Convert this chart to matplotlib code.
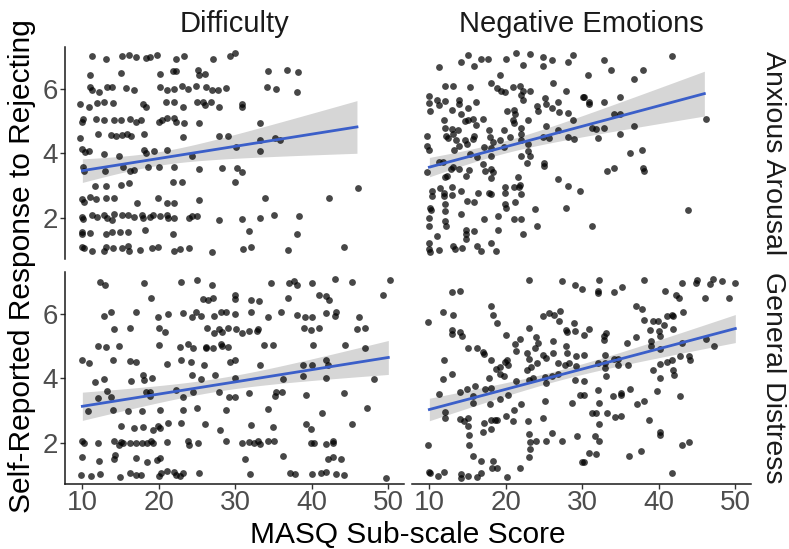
import numpy as np
import matplotlib
matplotlib.use('Agg')
import matplotlib.pyplot as plt

plt.rcParams['font.family'] = ['Liberation Sans', 'DejaVu Sans']

# ---- data ----
# Difficulty / Anxious Arousal
tl_x = [11.3,13.1,15.2,16.1,17.0,18.3,18.9,19.8,22.2,23.3,27.1,29.3,29.9,
        11.0,15.0,20.1,21.9,22.3,25.1,25.2,26.0,
        11.0,11.3,12.2,13.2,13.9,15.7,16.8,20.1,21.0,22.0,23.0,23.8,24.9,26.2,27.0,27.7,28.8,
        9.7,10.9,11.9,12.8,14.0,17.9,18.3,20.9,22.0,23.2,25.0,25.8,26.0,26.8,27.9,
        10.1,10.0,11.8,12.8,14.1,15.0,16.2,17.0,17.7,20.0,20.4,21.0,22.0,22.3,23.3,25.2,
        9.7,12.0,13.8,14.4,15.2,15.9,16.4,18.1,23.2,27.8,29.0,
        9.9,10.3,10.9,12.8,14.8,18.1,18.3,19.4,21.0,24.3,30.1,
        10.1,10.2,12.9,15.3,16.2,16.8,18.6,20.0,22.0,25.2,28.3,30.2,
        11.7,13.1,15.1,16.1,21.8,23.0,30.0,
        10.0,10.2,11.0,11.8,13.1,14.1,17.2,19.9,21.0,22.0,25.3,
        10.0,10.1,11.2,11.9,12.8,13.2,13.9,14.2,15.2,16.0,16.8,17.8,17.9,18.8,19.2,20.1,21.0,21.2,22.0,23.9,24.3,25.0,27.9,
        9.9,10.0,11.0,13.1,13.9,14.9,16.0,18.2,21.8,
        9.9,10.2,11.3,12.8,13.1,14.0,15.2,16.0,16.1,17.6,19.1,19.9,22.0,22.8,23.9,27.0,
        34.3,36.7,38.2,34.1,35.3,38.1,30.9,30.9,33.2,33.2,35.2,35.8,33.2,30.9,33.9,42.3,46.0,30.9,33.2,35.0,
        38.3,31.8,38.0,31.0,32.1,36.9,44.2]
tl_y = [7.02,6.94,7.04,7.07,7.0,6.97,7.0,7.07,6.94,7.04,6.94,7.02,7.12,
        6.44,6.49,6.47,6.55,6.55,6.6,6.44,6.46,
        6.08,5.97,5.92,6.05,6.05,6.02,5.97,6.05,5.97,5.99,6.1,5.99,6.1,6.08,5.97,5.97,6.02,
        5.53,5.45,5.57,5.61,5.57,5.55,5.45,5.61,5.61,5.45,5.61,5.61,5.5,5.61,5.45,
        5.08,4.98,5.08,5.03,5.03,5.03,5.08,4.98,5.03,4.98,5.03,5.1,5.11,4.98,4.95,4.95,
        4.49,4.61,4.56,4.53,4.56,4.61,4.54,4.61,4.51,4.53,4.53,
        4.14,4.04,4.07,3.99,3.93,4.11,4.02,4.07,4.11,3.93,4.19,
        3.57,3.44,3.46,3.59,3.44,3.48,3.59,3.59,3.59,3.52,3.55,3.55,
        2.99,2.97,3.02,3.07,3.1,3.1,3.1,
        2.57,2.5,2.63,2.57,2.61,2.61,2.45,2.61,2.45,2.45,2.54,
        2.03,1.97,2.08,2.03,2.08,2.0,1.92,2.1,2.08,2.08,2.02,2.08,1.98,2.03,2.08,2.05,2.08,2.0,1.98,1.98,2.05,2.06,1.92,
        1.55,1.48,1.51,1.48,1.56,1.56,1.56,1.61,1.48,
        1.08,1.04,0.96,0.96,1.08,1.06,1.04,1.11,0.96,0.98,1.06,1.08,0.96,1.03,1.06,0.92,
        6.55,6.58,6.54,6.08,6.0,5.92,5.55,5.45,4.95,4.43,4.49,4.43,4.07,3.43,2.6,2.61,2.92,1.95,1.99,2.08,
        2.05,1.59,1.5,1.01,1.07,0.99,1.07]

# Negative Emotions / Anxious Arousal
tr_x = [11.2,14.2,15.0,15.8,16.8,17.7,20.0,21.3,22.2,23.2,24.9,24.9,26.0,28.1,28.8,19.2,
        12.0,13.1,15.3,18.1,18.8,19.4,19.9,20.9,21.9,22.2,23.1,26.1,27.8,
        10.0,10.0,10.1,11.0,11.2,12.0,13.0,13.9,13.9,15.0,16.1,20.2,21.1,21.2,22.0,22.2,24.1,24.2,25.1,25.2,26.0,26.8,27.0,28.1,30.1,
        11.9,12.0,12.9,13.8,14.2,14.7,15.1,15.7,16.1,17.0,17.8,19.7,20.9,21.0,22.0,22.9,25.3,26.8,28.8,
        9.7,9.7,10.0,12.2,12.5,13.1,13.5,14.7,15.7,15.8,17.9,18.3,19.2,20.6,22.0,22.0,22.9,24.9,25.7,28.1,28.9,
        11.2,11.8,13.2,13.9,14.9,15.3,16.2,17.2,18.0,18.0,19.7,22.0,22.9,23.1,22.8,25.0,25.0,
        9.7,12.0,12.3,12.8,13.1,13.9,14.8,15.2,17.0,17.3,18.0,18.1,18.3,
        10.3,10.3,11.4,11.9,11.9,12.9,13.0,14.1,14.9,15.8,16.3,17.8,18.0,19.9,19.9,21.0,21.8,21.7,22.0,21.6,26.8,28.1,29.7,
        10.1,10.2,9.9,10.0,12.0,12.0,12.0,12.2,14.2,17.2,19.0,19.9,20.0,21.2,21.0,22.0,23.8,24.1,27.9,
        14.8,14.8,14.8,15.8,19.0,22.2,11.0,10.0,9.9,10.1,11.2,13.1,13.3,14.3,16.2,16.8,18.0,18.7,
        32.8,41.7,30.8,33.8,36.8,37.9,30.2,30.9,30.9,32.8,34.9,34.2,34.9,31.2,31.8,32.8,36.7,46.2,32.0,34.9,
        36.2,37.8,33.2,34.2,37.9,38.1,43.8,31.2]
tr_y = [6.7,6.83,7.05,6.72,6.94,6.94,6.94,7.12,6.75,7.1,7.0,6.72,6.91,6.83,7.07,6.44,
        6.1,6.1,6.05,6.18,6.02,5.95,5.92,6.08,6.1,5.95,5.95,6.2,5.95,
        5.78,5.57,5.32,5.66,5.5,5.64,5.34,5.66,5.55,5.4,5.61,5.32,5.36,5.22,5.81,5.66,5.47,5.32,5.71,5.55,5.4,5.61,5.29,5.26,5.76,
        5.03,4.8,4.77,4.72,5.22,5.01,5.05,5.08,4.87,5.08,4.74,4.72,5.05,4.93,4.8,5.03,4.84,4.74,5.05,
        4.53,4.22,4.09,4.53,4.49,4.61,4.4,4.4,4.46,4.53,4.51,4.35,4.4,4.51,4.61,4.4,4.3,4.51,4.49,4.51,4.46,
        3.72,3.72,4.09,4.22,4.3,3.99,3.9,4.19,4.17,3.93,4.19,3.93,4.06,3.93,3.69,3.69,3.6,
        3.43,3.25,3.31,3.52,3.59,3.52,3.31,3.48,3.67,3.46,3.52,3.23,3.41,
        2.84,2.68,2.91,2.78,2.68,2.94,2.71,2.84,2.52,2.5,2.75,2.78,2.73,2.94,2.75,2.96,3.02,2.94,2.73,3.25,3.2,2.99,2.82,
        2.31,2.23,2.0,1.74,2.42,2.21,1.9,1.74,2.1,1.95,2.05,2.42,2.31,2.47,1.95,1.95,2.26,1.74,2.31,
        1.6,1.48,1.32,1.58,1.6,1.5,1.43,1.22,1.01,0.93,0.98,1.11,1.01,1.06,1.11,0.95,1.22,0.95,
        6.91,7.04,6.44,6.6,6.32,6.59,5.76,5.61,5.53,5.61,5.76,5.22,5.24,4.8,4.77,4.8,4.84,5.07,4.48,4.59,
        4.02,4.09,3.44,3.53,3.55,3.44,2.23,1.75]

# Difficulty / General Distress
bl_x = [12.3,12.9,18.0,22.9,25.0,26.9,19.0,25.8,26.4,27.1,30.0,30.0,
        12.8,13.8,17.0,19.9,21.2,23.1,24.3,24.9,25.5,27.2,28.1,28.8,30.0,
        14.2,16.2,20.0,20.8,26.3,27.2,27.9,28.3,29.1,30.1,
        12.0,13.1,14.8,20.0,22.8,23.8,24.4,26.1,26.2,27.1,28.1,28.3,29.0,
        10.0,10.9,14.0,16.2,17.0,21.1,22.9,24.2,25.9,29.3,30.0,
        11.7,12.8,16.3,17.9,18.1,19.1,24.3,25.5,27.3,29.9,
        13.2,12.0,13.8,18.3,18.8,18.9,22.3,23.2,24.4,27.8,29.2,30.0,
        10.8,14.0,16.0,17.8,20.1,23.1,25.0,28.8,
        15.0,16.8,17.9,19.3,19.9,20.1,21.2,22.9,26.0,28.0,
        10.0,10.2,12.0,14.1,14.8,15.0,15.3,16.2,17.0,17.8,18.4,19.0,19.2,21.0,23.8,23.9,25.1,28.8,
        10.0,12.2,14.1,14.3,17.0,18.4,19.7,20.1,
        9.8,11.1,12.3,14.9,16.2,17.0,17.7,20.0,20.3,21.0,22.0,22.3,22.7,23.2,25.2,
        34.7,37.0,37.7,38.0,40.0,43.0,45.2,50.2,49.3,36.9,40.9,41.9,42.2,32.0,33.1,
        32.0,36.0,34.3,38.0,39.1,40.0,41.9,43.0,43.2,46.2,30.9,31.8,32.9,32.8,39.0,39.9,40.9,45.9,46.9,
        33.8,34.9,40.2,44.3,47.0,33.2,38.9,40.0,41.9,42.1,36.2,38.9,41.8,48.1,
        31.8,35.3,35.2,36.1,39.2,44.2,34.3,41.3,47.2,32.0,34.9,39.2,39.9,45.2,
        30.9,31.8,32.4,33.0,33.2,34.3,35.1,39.9,40.3,41.8,42.8,42.8,31.3,36.2,42.1,42.8,43.8,
        31.9,37.1,37.8,40.0,41.2,41.9,43.2,44.2,49.7]
bl_y = [7.0,6.91,6.97,7.0,7.05,6.91,6.49,6.47,6.45,6.5,6.6,6.47,
        5.93,6.05,6.05,5.9,6.0,6.02,5.9,6.05,5.95,5.95,6.05,6.05,6.0,
        5.55,5.58,5.58,5.45,5.58,5.4,5.55,5.45,5.58,5.53,
        5.01,4.99,5.01,5.03,4.98,5.06,4.96,4.99,4.93,4.93,5.06,5.01,4.99,
        4.57,4.49,4.56,4.54,4.51,4.46,4.57,4.52,4.43,4.51,4.57,
        3.89,3.99,3.91,4.09,3.96,4.02,4.09,3.99,4.09,4.02,
        3.6,3.39,3.41,3.57,3.46,3.57,3.63,3.41,3.57,3.57,3.41,3.41,
        2.97,3.02,2.97,2.97,3.02,3.0,3.08,3.0,
        2.52,2.45,2.5,2.4,2.52,2.45,2.61,2.61,2.59,2.4,
        2.04,2.0,2.0,2.06,1.93,2.03,2.0,1.98,1.98,1.98,1.98,2.06,2.0,2.03,2.06,1.91,1.98,2.06,
        1.56,1.44,1.48,1.61,1.51,1.4,1.46,1.51,
        0.99,0.97,1.02,0.93,1.06,0.99,0.99,0.96,1.06,1.1,1.07,0.99,0.96,1.04,1.06,
        6.97,6.96,7.02,6.92,6.97,7.08,7.0,7.05,6.58,6.5,6.58,6.56,6.44,6.44,6.42,
        6.05,6.05,5.9,5.97,5.9,5.9,6.03,5.93,6.05,5.91,5.4,5.48,5.55,5.46,5.58,5.51,5.56,5.53,5.56,
        5.04,5.04,5.04,5.04,4.93,4.4,4.42,4.43,4.57,4.42,3.99,4.07,4.02,3.99,
        3.55,3.57,3.44,3.57,3.49,3.55,3.06,2.92,3.08,2.55,2.48,2.59,2.43,2.59,
        1.98,2.03,1.98,2.06,1.96,2.05,2.05,1.98,1.98,1.95,2.06,1.98,1.5,1.58,1.48,1.54,1.5,
        1.01,1.04,1.01,1.01,1.04,1.08,1.01,0.98,0.91]

# Negative Emotions / General Distress
br_x = [23.0,27.3,29.0,30.0,13.0,14.0,18.0,18.3,18.9,11.8,13.1,9.8,24.9,25.7,26.3,26.9,27.1,23.0,28.9,
        13.0,13.0,14.0,14.3,20.0,21.9,21.2,24.0,24.2,26.2,27.9,28.0,29.1,27.9,
        15.1,16.2,17.0,17.1,18.0,21.3,22.8,23.8,23.0,24.8,25.3,24.1,26.1,26.8,28.0,28.3,29.2,11.9,
        13.0,11.8,18.7,19.3,19.9,20.2,20.3,19.3,19.7,17.8,21.3,22.7,23.3,23.5,23.0,25.1,25.3,26.0,26.8,27.7,29.0,29.2,
        11.2,14.0,14.9,16.0,17.3,18.0,15.7,15.7,17.9,19.2,20.3,22.0,25.1,28.7,29.7,
        12.0,12.0,14.0,14.5,15.0,15.1,17.1,18.0,18.0,18.6,18.9,20.0,21.0,20.9,22.9,24.9,
        9.8,15.2,15.2,17.0,23.0,23.2,23.9,25.3,26.0,27.3,29.3,
        15.7,23.1,23.0,16.8,18.3,
        10.0,10.1,11.1,11.9,14.1,14.1,15.1,16.2,16.8,18.2,18.8,20.2,21.9,30.0,
        32.2,38.1,43.0,45.0,44.9,47.1,46.7,48.3,49.9,32.0,32.0,34.1,35.2,40.8,42.2,42.7,46.1,49.2,
        37.0,37.8,43.1,41.1,41.7,41.8,38.1,39.2,39.9,40.7,38.8,40.0,40.1,41.8,30.9,30.2,32.8,33.1,32.8,37.0,
        35.8,39.0,39.0,40.1,43.0,46.2,47.2,
        30.2,33.0,34.2,34.6,32.0,32.9,34.7,36.0,40.2,41.1,41.7,42.8,44.0,44.1,39.2,41.9,42.0,40.2,32.9,33.1,30.2,
        36.2,32.0,30.2,34.0,35.0,35.1,39.7,42.8,37.1,38.1,
        32.2,31.3,31.8,33.2,34.3,35.1,32.2,38.7,
        31.7,32.2,40.2,40.2,43.0,43.9,30.9,31.8,30.2,36.1,37.7,41.7]
br_y = [7.05,7.02,6.92,6.77,6.7,6.71,6.26,5.98,5.72,6.05,5.97,5.76,5.95,6.02,5.97,5.79,6.09,5.56,5.72,
        5.51,5.38,5.45,5.32,5.34,5.22,5.06,5.29,5.09,5.17,5.51,5.43,5.46,5.01,
        4.96,4.96,4.82,4.75,4.57,4.85,4.78,4.94,4.59,4.72,4.64,4.47,4.78,4.47,4.78,4.49,4.7,4.57,
        4.15,3.99,4.28,4.36,4.51,4.57,4.41,4.12,4.07,4.02,3.91,4.26,4.36,4.02,3.96,4.05,3.84,4.07,4.12,4.43,3.96,4.38,
        3.52,3.57,3.67,3.76,3.67,3.7,3.44,3.23,3.21,3.36,3.49,3.21,3.29,3.23,3.49,
        2.94,2.76,2.73,2.68,2.76,2.52,2.61,2.69,2.42,2.69,2.69,2.84,3.0,2.68,2.66,2.76,
        1.93,2.24,1.93,2.32,2.26,2.03,2.06,2.05,2.31,2.05,2.21,
        1.58,1.79,1.54,1.43,1.43,
        1.09,1.04,0.97,1.09,1.02,0.91,0.97,0.93,1.04,1.2,1.22,0.93,1.2,1.4,
        7.05,7.05,6.97,7.07,6.97,7.08,6.94,7.02,6.97,6.73,6.66,6.68,6.84,6.73,6.6,6.5,6.5,6.49,
        6.26,6.15,6.05,5.93,5.98,5.95,5.81,5.77,5.79,5.67,5.5,5.47,5.32,5.53,5.55,5.34,5.32,5.41,5.2,5.29,
        5.09,5.17,5.01,4.91,5.09,5.24,5.01,
        4.73,4.73,4.61,4.61,4.47,4.47,4.43,4.43,4.46,4.52,4.56,4.7,4.7,4.57,4.26,4.26,4.09,4.0,4.31,4.07,3.91,
        3.67,3.65,3.49,3.44,3.55,3.49,3.6,3.44,3.2,3.29,
        3.23,2.92,2.92,2.92,2.79,2.84,2.57,2.69,
        2.19,2.06,2.32,2.24,1.93,2.03,1.67,1.64,1.41,1.58,1.75,1.04]

# fitted line and half width of the confidence band, read at a few x values
tl_fit_x = [10, 20, 30, 40, 45.9]
tl_fit_y = [3.46, 3.84, 4.22, 4.60, 4.82]
tl_fit_hw = [0.35, 0.27, 0.36, 0.63, 0.83]
tr_fit_x = [10, 20, 30, 40, 45.95]
tr_fit_y = [3.57, 4.21, 4.84, 5.48, 5.86]
tr_fit_hw = [0.30, 0.20, 0.33, 0.55, 0.70]
bl_fit_x = [10, 20, 30, 40, 50]
bl_fit_y = [3.13, 3.51, 3.89, 4.27, 4.65]
bl_fit_hw = [0.44, 0.26, 0.22, 0.33, 0.53]
br_fit_x = [10, 20, 30, 40, 50]
br_fit_y = [3.03, 3.66, 4.29, 4.92, 5.55]
br_fit_hw = [0.35, 0.20, 0.19, 0.26, 0.44]

col_labels = ['Difficulty', 'Negative Emotions']
row_labels = ['Anxious Arousal', 'General Distress']
x_ticks = [10, 20, 30, 40, 50]
y_ticks = [2, 4, 6]

panels = [[(tl_x, tl_y, tl_fit_x, tl_fit_y, tl_fit_hw), (tr_x, tr_y, tr_fit_x, tr_fit_y, tr_fit_hw)],
          [(bl_x, bl_y, bl_fit_x, bl_fit_y, bl_fit_hw), (br_x, br_y, br_fit_x, br_fit_y, br_fit_hw)]]

W, H = 789, 549
fig = plt.figure(figsize=(W / 100, H / 100), dpi=100)

lefts = [65, 412]
tops = [46.7, 271.7]
pw, ph = 339, 212

for r in range(2):
    for c in range(2):
        px, py, fx, fy, fhw = panels[r][c]
        ax = fig.add_axes([lefts[c] / W, 1 - (tops[r] + ph) / H, pw / W, ph / H])
        # band: hw^2 quadratic in x, line linear in x
        xs = np.linspace(fx[0], fx[-1], 100)
        hw = np.sqrt(np.clip(np.polyval(np.polyfit(fx, np.array(fhw) ** 2, 2), xs), 0.001, None))
        ys = np.polyval(np.polyfit(fx, fy, 1), xs)
        ax.fill_between(xs, ys - hw, ys + hw, color='#999999', alpha=0.4, lw=0, zorder=2)
        ax.scatter(px, py, s=24, color='black', alpha=0.72, lw=0, zorder=3)
        ax.plot(xs, ys, color='#3b5fc9', lw=2.0, zorder=4)

        ax.set_xlim(7.73, 52.05)
        ax.set_ylim(0.72, 7.32)
        ax.set_xticks(x_ticks)
        ax.set_yticks(y_ticks)
        for s in ['top', 'right']:
            ax.spines[s].set_visible(False)
        ax.spines['left'].set_visible(c == 0)
        ax.spines['bottom'].set_visible(r == 1)
        for s in ['left', 'bottom']:
            ax.spines[s].set_linewidth(1.1)
            ax.spines[s].set_color('#1a1a1a')
        ax.tick_params(axis='x', bottom=(r == 1), labelbottom=(r == 1), length=3.5, width=1.0,
                       color='#333333', labelcolor='#4D4D4D', labelsize=20, pad=1)
        ax.tick_params(axis='y', left=(c == 0), labelleft=(c == 0), length=3.5, width=1.0,
                       color='#333333', labelcolor='#4D4D4D', labelsize=20, pad=1.5)
        ax.patch.set_alpha(0)

# strip labels
for c in range(2):
    cx = (lefts[c] + pw / 2) / W
    fig.text(cx, 1 - 32 / H, col_labels[c], ha='center', va='baseline', fontsize=21, color='#1a1a1a')
for r in range(2):
    cy = 1 - (tops[r] + ph / 2) / H
    fig.text(773 / W, cy, row_labels[r], ha='center', va='center', rotation=-90, fontsize=20.5, color='#1a1a1a')

fig.text(22 / W, 1 - 266 / H, 'Self-Reported Response to Rejecting', ha='center', va='center',
         rotation=90, fontsize=21.5, color='black')
fig.text(408 / W, 1 - 543 / H, 'MASQ Sub-scale Score', ha='center', va='baseline', fontsize=21.5, color='black')

plt.savefig('out.png', dpi=100)
